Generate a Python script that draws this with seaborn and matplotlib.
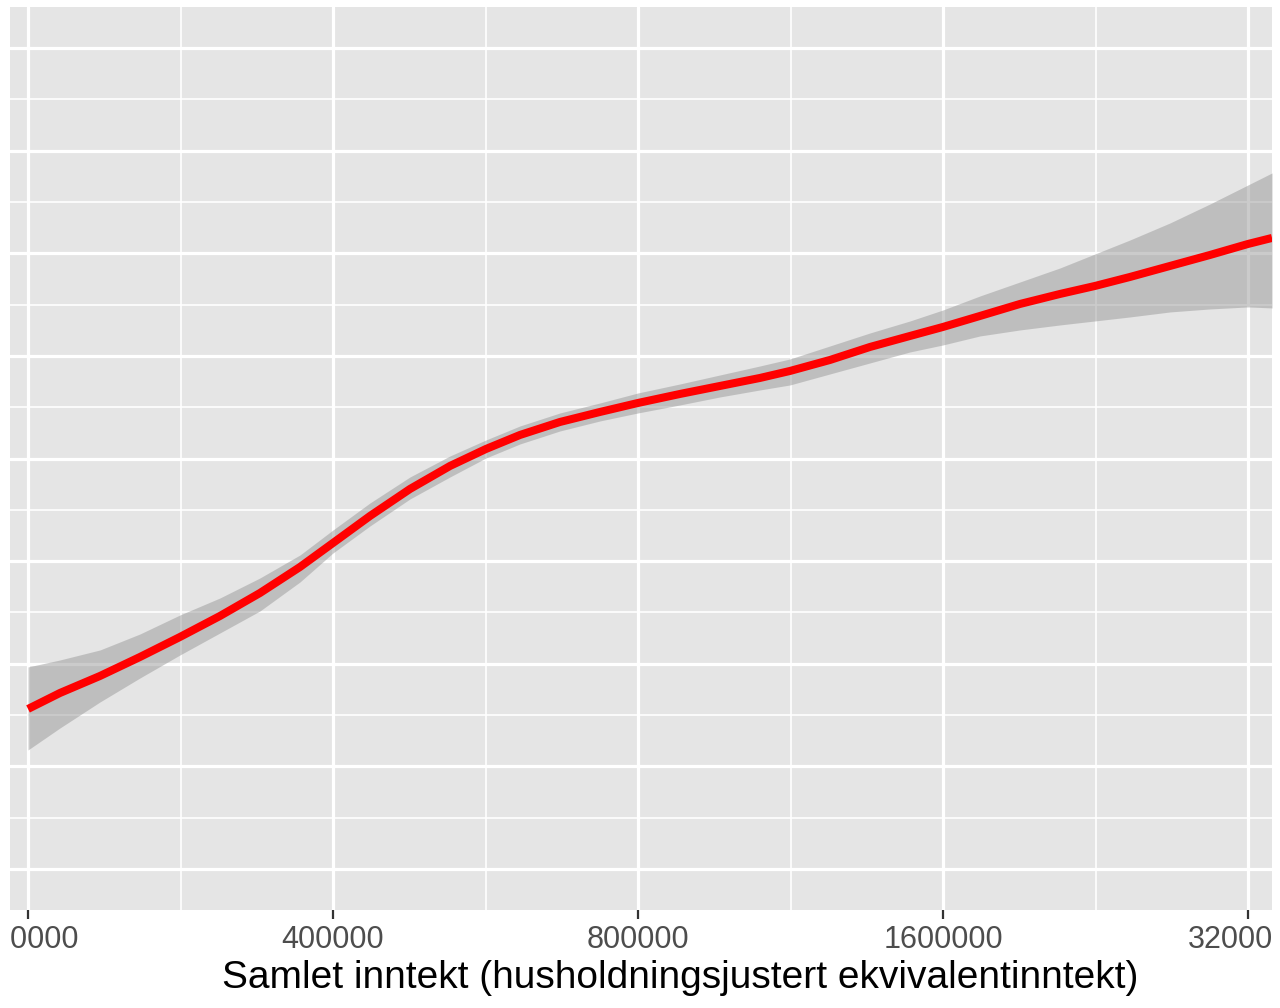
import numpy as np
import pandas as pd
import matplotlib
matplotlib.use("Agg")
import matplotlib.pyplot as plt
import matplotlib.ticker as mticker
from matplotlib.transforms import Bbox, TransformedBbox
import seaborn as sns

# ---- data ----
income = [200000, 215090, 235560, 257980, 282520, 309410, 338850, 371110,
          400000, 435090, 476500, 521840, 566340, 611820, 670040, 733840,
          800000, 880120, 963870, 1055610, 1130090, 1237620, 1355390, 1484440,
          1600000, 1740350, 1905980, 2087340, 2260180, 2447300, 2680180,
          2935360, 3200000, 3379000]
fit = [1.5595, 1.7154, 1.8811, 2.0663, 2.2612, 2.4659, 2.6900, 2.9435,
       3.1774, 3.4405, 3.7037, 3.9279, 4.0936, 4.2300, 4.3567, 4.4542,
       4.5419, 4.6296, 4.7076, 4.7856, 4.8538, 4.9610, 5.0877, 5.1949,
       5.2827, 5.3899, 5.5068, 5.6043, 5.6823, 5.7700, 5.8772, 5.9844,
       6.0916, 6.1501]
upper = [1.9688, 2.0370, 2.1345, 2.2904, 2.4756, 2.6413, 2.8363, 3.0604,
         3.3041, 3.5673, 3.8207, 4.0253, 4.1813, 4.3177, 4.4444, 4.5419,
         4.6394, 4.7271, 4.8148, 4.9025, 4.9708, 5.0975, 5.2242, 5.3411,
         5.4483, 5.5848, 5.7212, 5.8577, 5.9942, 6.1306, 6.2963, 6.4815,
         6.6667, 6.7836]
lower = [1.1598, 1.3743, 1.6277, 1.8616, 2.0858, 2.3002, 2.5146, 2.7973,
         3.0799, 3.3431, 3.6062, 3.8207, 4.0058, 4.1423, 4.2690, 4.3665,
         4.4444, 4.5224, 4.6004, 4.6686, 4.7173, 4.8246, 4.9318, 5.0390,
         5.1072, 5.1949, 5.2534, 5.3021, 5.3411, 5.3801, 5.4288, 5.4581,
         5.4776, 5.4678]
x_ticks = [200000, 400000, 800000, 1600000, 3200000]
x_tick_labels = ["200000", "400000", "800000", "1600000", "3200000"]
x_minor = [282843, 565685, 1131371, 2262742]
y_major = [0, 1, 2, 3, 4, 5, 6, 7, 8]
y_minor = [0.5, 1.5, 2.5, 3.5, 4.5, 5.5, 6.5, 7.5]
x_title = "Samlet inntekt (husholdningsjustert ekvivalentinntekt)"

df = pd.DataFrame({"income": income, "fit": fit, "upper": upper, "lower": lower})

sns.set_theme(style="white")
plt.rcParams["font.family"] = ["Liberation Sans", "DejaVu Sans"]

W, H = 1280, 1008
fig = plt.figure(figsize=(W / 100, H / 100), dpi=100)
left_px, right_px, top_px, bot_px = 10, 1272, 7, 910
ax = fig.add_axes([left_px / W, 1 - bot_px / H, (right_px - left_px) / W, (bot_px - top_px) / H])
ax.set_facecolor("#E5E5E5")
for s in ax.spines.values():
    s.set_visible(False)

ax.set_xscale("log", base=2)
ax.set_xlim(191980, 3379000)
ax.set_ylim(-0.400, 8.401)

ax.fill_between(df["income"], df["lower"], df["upper"], color="#999999", alpha=0.5,
                linewidth=0, zorder=2)
sns.lineplot(data=df, x="income", y="fit", color="#FF0000", linewidth=5.8, ax=ax,
             zorder=3, solid_capstyle="butt", solid_joinstyle="round")

ax.xaxis.set_major_locator(mticker.FixedLocator(x_ticks))
ax.xaxis.set_major_formatter(mticker.FixedFormatter(x_tick_labels))
ax.xaxis.set_minor_locator(mticker.FixedLocator(x_minor))
ax.xaxis.set_minor_formatter(mticker.NullFormatter())
ax.yaxis.set_major_locator(mticker.FixedLocator(y_major))
ax.yaxis.set_minor_locator(mticker.FixedLocator(y_minor))
ax.yaxis.set_major_formatter(mticker.NullFormatter())
ax.yaxis.set_minor_formatter(mticker.NullFormatter())

ax.grid(which="major", color="white", linewidth=2.3, zorder=1)
ax.grid(which="minor", color="white", linewidth=1.2, zorder=1)
ax.set_axisbelow(True)

ax.tick_params(axis="x", which="major", length=6.5, width=1.6, color="#333333",
               labelsize=22, labelcolor="#4D4D4D", pad=4, bottom=True)
ax.tick_params(axis="x", which="minor", length=0)
ax.tick_params(axis="y", which="both", length=0, left=False, labelleft=False)

ax.set_ylabel("")
ax.set_xlabel(x_title, fontsize=28, color="black")
ax.xaxis.set_label_coords((680 - left_px) / (right_px - left_px), -0.055)

# the reference picture is cropped at both sides: clip tick labels accordingly
fig.canvas.draw()
clip = TransformedBbox(Bbox.from_extents(11 / W, 0, 1271 / W, 1), fig.transFigure)
for tick in ax.xaxis.get_major_ticks():
    tick.label1.set_clip_on(True)
    tick.label1.set_clip_box(clip)

fig.savefig("out.png", dpi=100)
